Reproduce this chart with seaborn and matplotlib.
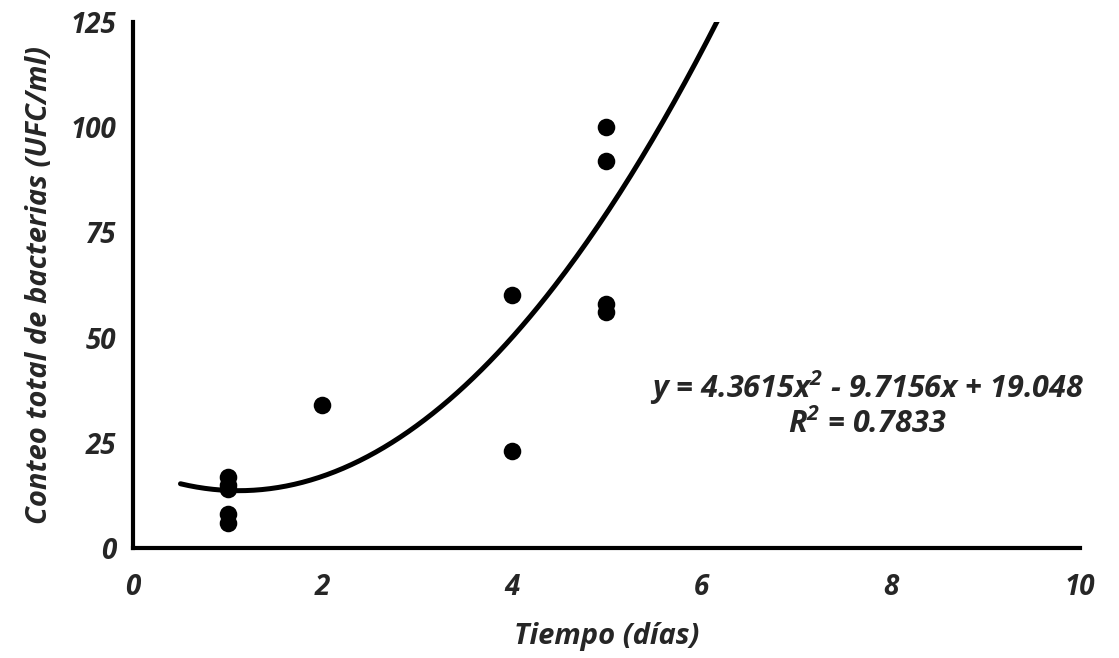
import numpy as np
import pandas as pd
import matplotlib
matplotlib.use("Agg")
import matplotlib.pyplot as plt
import seaborn as sns

# Data
dias = [1, 1, 1, 1, 1, 2, 4, 4, 5, 5, 5, 5]
conteo = [17, 15, 14, 8, 6, 34, 60, 23, 100, 92, 58, 56]

# Polynomial trend line coefficients (as printed on the chart)
coef_a, coef_b, coef_c = 4.3615, -9.7156, 19.048
r2 = 0.7833
x_start, x_end = 0.5, 6.2

x_ticks = [0, 2, 4, 6, 8, 10]
y_ticks = [0, 25, 50, 75, 100, 125]

sns.set_theme(style="white")
plt.rcParams['font.family'] = ['Open Sans', 'DejaVu Sans']
plt.rcParams['mathtext.default'] = 'regular'

fig = plt.figure(figsize=(11.19, 6.58), dpi=100)
ax = fig.add_axes([0.119, 0.167, 0.846, 0.80])

df = pd.DataFrame({"dias": dias, "conteo": conteo})
xs = np.linspace(x_start, x_end, 200)
trend = pd.DataFrame({"x": xs, "y": coef_a * xs**2 + coef_b * xs + coef_c})

sns.lineplot(data=trend, x="x", y="y", ax=ax, color="black", linewidth=3.6)
sns.scatterplot(data=df, x="dias", y="conteo", ax=ax, color="black", s=160,
                edgecolor="black", linewidth=0, zorder=3)

ax.set_xlim(0, 10)
ax.set_ylim(0, 125)
ax.set_xticks(x_ticks)
ax.set_yticks(y_ticks)
tick_font = dict(fontsize=20, fontweight="bold", fontstyle="italic")
ax.set_xticklabels([str(t) for t in x_ticks], **tick_font)
ax.set_yticklabels([str(t) for t in y_ticks], **tick_font)

for s in ["top", "right"]:
    ax.spines[s].set_visible(False)
for s in ["left", "bottom"]:
    ax.spines[s].set_linewidth(3)
    ax.spines[s].set_color("black")
ax.tick_params(axis="both", direction="out", length=6, width=3, color="black")
ax.tick_params(axis="x", pad=12)
ax.tick_params(axis="y", pad=6)

ax.set_xlabel("Tiempo (días)", fontsize=21, fontweight="bold", fontstyle="italic", labelpad=14)
ax.set_ylabel("Conteo total de bacterias (UFC/ml)", fontsize=21, fontweight="bold",
              fontstyle="italic", labelpad=12)

ax.text(7.75, 38.0, "y = 4.3615x$^{2}$ - 9.7156x + 19.048", fontsize=22, fontweight="bold",
        fontstyle="italic", ha="center", va="center")
ax.text(7.75, 29.5, "R$^{2}$ = %.4f" % r2, fontsize=22, fontweight="bold",
        fontstyle="italic", ha="center", va="center")

fig.savefig("out.png", dpi=100, facecolor="white")
